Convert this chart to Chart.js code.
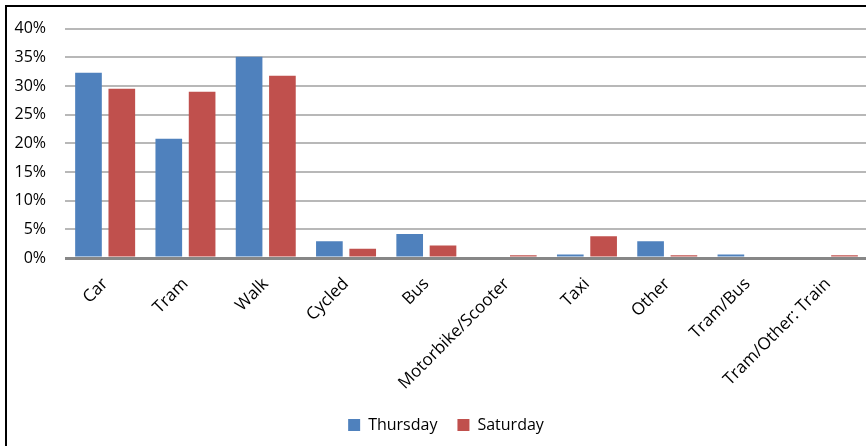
<!DOCTYPE html>
<html>
<head>
<meta charset="utf-8">
<script src="https://cdn.jsdelivr.net/npm/chart.js@4"></script>
<style>
  html, body { margin: 0; padding: 0; background: #fff; overflow: hidden; }
  #wrap { position: relative; width: 866px; height: 446px; overflow: hidden; }
  #chart { position: absolute; left: 0; top: 0; }
  #frame { position: absolute; left: 5px; top: 5px; width: 960px; height: 600px;
           border-left: 2px solid #000; border-top: 2px solid #000; pointer-events: none; }
</style>
</head>
<body>
<div id="wrap">
  <canvas id="chart" width="892" height="446"></canvas>
  <div id="frame"></div>
</div>
<script>
// Travel mode shares (%) by day
const categories = ['Car', 'Tram', 'Walk', 'Cycled', 'Bus', 'Motorbike/Scooter', 'Taxi', 'Other', 'Tram/Bus', 'Tram/Other: Train'];
const thursday = [32.3, 20.8, 35.1, 2.9, 4.2, 0, 0.6, 2.9, 0.6, 0];
const saturday = [29.5, 29.0, 31.8, 1.6, 2.2, 0.5, 3.8, 0.5, 0, 0.5];
const seriesNames = ['Thursday', 'Saturday'];
const yTickLabels = ['0%', '5%', '10%', '15%', '20%', '25%', '30%', '35%', '40%'];

const FONT = "'Open Sans', sans-serif";

// nudges the legend so it sits centred under the whole framed panel
const legendShift = {
  id: 'legendShift',
  beforeDraw(chart) {
    const lg = chart.legend;
    if (lg && !lg._shifted) {
      lg.left += 12; lg.right += 12; lg._shifted = true;
    }
  },
  afterLayout(chart) { if (chart.legend) chart.legend._shifted = false; }
};

new Chart(document.getElementById('chart'), {
  type: 'bar',
  data: {
    labels: categories,
    datasets: [
      { label: seriesNames[0], data: thursday, backgroundColor: '#4F81BD' },
      { label: seriesNames[1], data: saturday, backgroundColor: '#C0504D' }
    ]
  },
  options: {
    responsive: false,
    animation: false,
    devicePixelRatio: 1,
    categoryPercentage: 0.83,
    barPercentage: 0.8,
    layout: { padding: { left: 0, top: 24, right: 24, bottom: 3 } },
    scales: {
      x: {
        grid: { display: false, drawTicks: false },
        border: { display: false },
        ticks: {
          color: '#000',
          font: { family: FONT, size: 17 },
          minRotation: 45, maxRotation: 45,
          padding: 16,
          autoSkip: false
        },
        afterFit(scale) { scale.height = 139; }
      },
      y: {
        min: 0, max: 40,
        grid: {
          drawTicks: false,
          color: (c) => c.tick && c.tick.value === 0 ? '#878787' : '#b8b8b8',
          lineWidth: (c) => c.tick && c.tick.value === 0 ? 3 : 2
        },
        border: { display: false },
        ticks: {
          stepSize: 5,
          color: '#000',
          font: { family: FONT, size: 16 },
          padding: 19,
          callback: (v) => yTickLabels[Math.round(v / 5)]
        },
        afterFit(scale) { scale.width = 65; }
      }
    },
    plugins: {
      legend: {
        position: 'bottom',
        labels: {
          color: '#000',
          font: { family: FONT, size: 16 },
          boxWidth: 12, boxHeight: 12,
          padding: 20
        }
      },
      tooltip: { enabled: false }
    }
  },
  plugins: [legendShift]
});
</script>
</body>
</html>
